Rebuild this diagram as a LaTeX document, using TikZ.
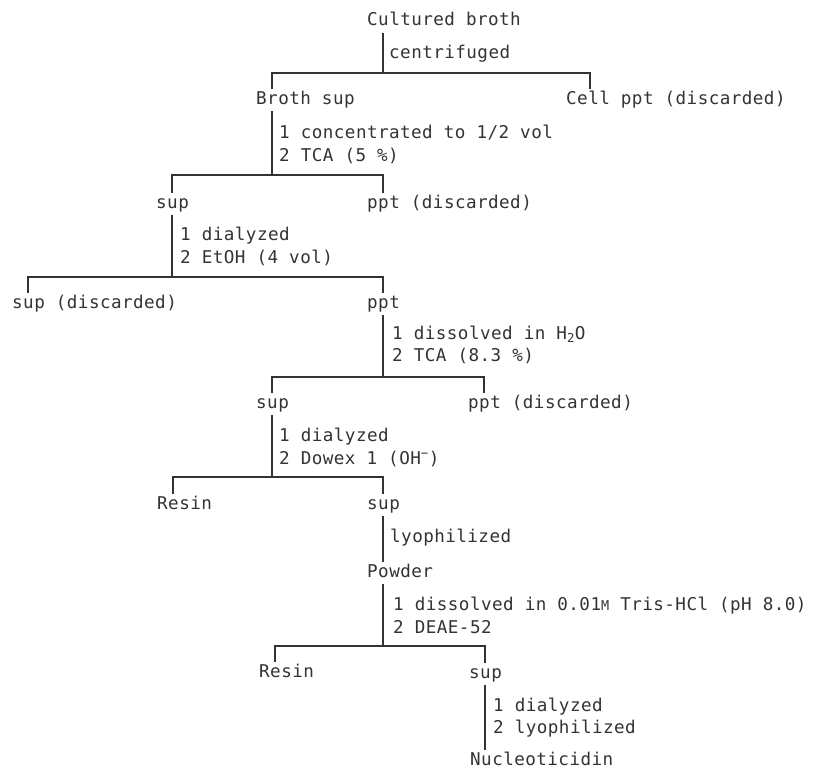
\documentclass[tikz,border=0pt]{standalone}
\usepackage{fontspec}
\newfontfamily\tfont[LetterSpace=2.5]{DejaVu Sans Mono}
\definecolor{ink}{HTML}{333333}
\begin{document}
\begin{tikzpicture}[x=1pt,y=-1pt,
  lbl/.style={anchor=base west, inner xsep=0pt, inner ysep=3pt, text height=12pt, text depth=4pt, text=ink, font=\tfont\fontsize{17.6}{20}\selectfont},
  ln/.style={draw=ink, line width=1.2pt}]
\useasboundingbox (0,0) rectangle (826,768);
\node[lbl] (cb) at (367,26) {Cultured broth};
\node[lbl] (s1) at (389,59) {centrifuged};
\node[lbl] (bs) at (256,104) {Broth sup};
\node[lbl] (cp) at (566,104) {Cell ppt (discarded)};
\node[lbl] (s2a) at (279,138) {1 concentrated to 1/2 vol};
\node[lbl] (s2b) at (279,161) {2 TCA (5 \%)};
\node[lbl] (sup1) at (156,208) {sup};
\node[lbl] (pd1) at (367,208) {ppt (discarded)};
\node[lbl] (s3a) at (180,240) {1 dialyzed};
\node[lbl] (s3b) at (180,263) {2 EtOH (4 vol)};
\node[lbl] (sd) at (12,308) {sup (discarded)};
\node[lbl] (ppt2) at (367,308) {ppt};
\node[lbl] (s4a) at (392,339) {1 dissolved in H\textsubscript{2}O};
\node[lbl] (s4b) at (392,361) {2 TCA (8.3 \%)};
\node[lbl] (sup3) at (256,408) {sup};
\node[lbl] (pd3) at (468,408) {ppt (discarded)};
\node[lbl] (s5a) at (279,441) {1 dialyzed};
\node[lbl] (s5b) at (279,464) {2 Dowex 1 (OH\textsuperscript{−})};
\node[lbl] (res1) at (157,509) {Resin};
\node[lbl] (sup4) at (367,509) {sup};
\node[lbl] (s6) at (390,542) {lyophilized};
\node[lbl] (pow) at (367,577) {Powder};
\node[lbl] (s7a) at (393,610) {1 dissolved in 0.01{\fontsize{13.5}{14}\selectfont M} Tris-HCl (pH 8.0)};
\node[lbl] (s7b) at (393,633) {2 DEAE-52};
\node[lbl] (res2) at (259,677) {Resin};
\node[lbl] (sup5) at (469,678) {sup};
\node[lbl] (s8a) at (493,711) {1 dialyzed};
\node[lbl] (s8b) at (493,733) {2 lyophilized};
\node[lbl] (nuc) at (470,765) {Nucleoticidin};
\coordinate (j1) at (383,73);
\coordinate (j2) at (272,175);
\coordinate (j3) at (172,277);
\coordinate (j4) at (383,377);
\coordinate (j5) at (272,477);
\coordinate (j6) at (383,646);
\coordinate (v6) at ([xshift=16pt]sup4.south west);
\coordinate (v8) at ([xshift=16pt]sup5.south west);
\draw[ln] (cb.south -| j1) -- (j1);
\draw[ln] ([xshift=16pt]bs.north west) |- (j1) -| ([xshift=24pt]cp.north west);
\draw[ln] ([xshift=16pt]bs.south west) -- (j2);
\draw[ln] ([xshift=16pt]sup1.north west) |- (j2) -| ([xshift=16pt]pd1.north west);
\draw[ln] ([xshift=16pt]sup1.south west) -- (j3);
\draw[ln] ([xshift=16pt]sd.north west) |- (j3) -| ([xshift=16pt]ppt2.north west);
\draw[ln] ([xshift=16pt]ppt2.south west) -- (j4);
\draw[ln] ([xshift=16pt]sup3.north west) |- (j4) -| ([xshift=16pt]pd3.north west);
\draw[ln] ([xshift=16pt]sup3.south west) -- (j5);
\draw[ln] ([xshift=16pt]res1.north west) |- (j5) -| ([xshift=16pt]sup4.north west);
\draw[ln] (v6) -- (v6 |- pow.north);
\draw[ln] ([xshift=16pt]pow.south west) -- (j6);
\draw[ln] ([xshift=16pt]res2.north west) |- (j6) -| ([xshift=16pt]sup5.north west);
\draw[ln] (v8) -- (v8 |- nuc.north);
\end{tikzpicture}
\end{document}
